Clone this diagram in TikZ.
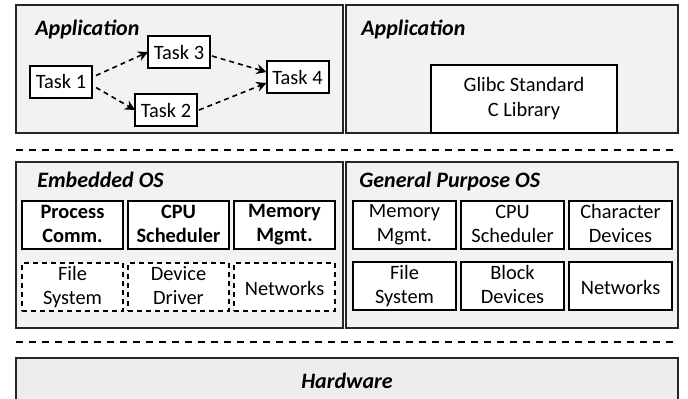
\documentclass[tikz,border=0pt]{standalone}
\usepackage{fontspec}
\setmainfont{Carlito}
\usepackage{tikz}
\usetikzlibrary{positioning,arrows.meta}
\definecolor{panelgray}{HTML}{F2F2F2}
\definecolor{hwgray}{HTML}{EDEDED}
\newcommand\boxstrut{\rule[-1.6pt]{0pt}{12pt}}

\begin{document}
\begin{tikzpicture}[x=0.5pt, y=-0.5pt, node distance=2.5pt,
  font=\fontsize{10.2}{12}\selectfont,
  panel/.style={draw=black!85, line width=1pt, fill=panelgray, inner sep=0pt, outer sep=0pt, anchor=north west},
  taskbox/.style={draw, line width=1pt, fill=white, minimum width=31pt, minimum height=16pt, inner sep=1pt, outer sep=0pt},
  osbox/.style={draw, line width=1pt, fill=white, align=center, minimum height=24pt, inner sep=0pt, outer sep=0pt,
    execute at begin node=\boxstrut, execute at end node=\boxstrut},
  optbox/.style={osbox, dash pattern=on 2.5pt off 2pt},
  paneltitle/.style={font=\fontsize{11}{13}\selectfont\bfseries\itshape, anchor=base west, inner sep=0pt},
  flow/.style={line width=0.8pt, dash pattern=on 2.5pt off 2pt, -{Stealth[length=5pt,width=5pt]}},
  layerline/.style={line width=1pt, dash pattern=on 3.5pt off 3pt}
]
\useasboundingbox (0,0) rectangle (688,398);

% Application panels (top row)
\node[panel, minimum width=163.5pt, minimum height=64pt] (appleft) at (16,5) {};
\node[panel, minimum width=166pt, minimum height=64pt] (appright) at (346,5) {};
\node[paneltitle] at (35,35) {Application};
\node[paneltitle] at (361,35) {Application};

% Tasks and their dependencies
\node[taskbox] (task1) at (61,81.5) {Task 1};
\node[taskbox] (task3) at (179,52) {Task 3};
\node[taskbox] (task2) at (166,110) {Task 2};
\node[taskbox] (task4) at (297.5,77) {Task 4};
\draw[flow] ([xshift=2pt,yshift=3pt]task1.east) -- (task3.west);
\draw[flow] ([xshift=2pt,yshift=-3pt]task1.east) -- (task2.west);
\draw[flow] ([xshift=1pt,yshift=-2pt]task3.east) -- ([yshift=2.5pt]task4.west);
\draw[flow] ([xshift=1pt]task2.east) -- ([yshift=-3pt]task4.west);

% Glibc
\node[draw, line width=1pt, fill=white, align=center, minimum width=93pt, minimum height=34pt,
  outer sep=0pt, anchor=north west, font=\fontsize{10.2}{12.5}\selectfont] (glibc) at (431,65) {Glibc Standard\\C Library};

% Layer separator
\draw[layerline] (16,150) -- (678,150);

% OS panels (middle row)
\node[panel, minimum width=163.5pt, minimum height=83pt] (eos) at (16,162) {};
\node[panel, minimum width=166pt, minimum height=83pt] (gpos) at (346,162) {};
\node[paneltitle] at (37,187) {Embedded OS};
\node[paneltitle] at (359,187) {General Purpose OS};

% Embedded OS, required parts (left, bold)
\node[osbox, minimum width=50.5pt, anchor=north west, font=\fontsize{10.2}{12}\selectfont\bfseries] (pc) at (22,201) {Process\\Comm.};
\node[osbox, minimum width=50.5pt, right=of pc, font=\fontsize{10.2}{12}\selectfont\bfseries] (cpuemb) {CPU\\Scheduler};
\node[osbox, minimum width=50.5pt, right=of cpuemb, font=\fontsize{10.2}{12}\selectfont\bfseries] (memembd) {Memory\\Mgmt.};

% Embedded OS, optional parts (dashed)
\node[optbox, minimum width=50.5pt, below=7pt of pc] (fsemb) {File\\System};
\node[optbox, minimum width=50.5pt, right=of fsemb] (drvemb) {Device\\Driver};
\node[optbox, minimum width=50.5pt, right=of drvemb] (netemb) {Networks};

% General purpose OS parts
\node[osbox, minimum width=51.5pt, anchor=north west] (memgp) at (353,201) {Memory\\Mgmt.};
\node[osbox, minimum width=51.5pt, right=of memgp] (cpugp) {CPU\\Scheduler};
\node[osbox, minimum width=51.5pt, right=of cpugp] (chargp) {Character\\Devices};
\node[osbox, minimum width=51.5pt, below=6.5pt of memgp] (fsgp) {File\\System};
\node[osbox, minimum width=51.5pt, right=of fsgp] (blockgp) {Block\\Devices};
\node[osbox, minimum width=51.5pt, right=of blockgp] (netgp) {Networks};

% Layer separator
\draw[layerline] (16,342) -- (678,342);

% Hardware
\node[panel, fill=hwgray, minimum width=331pt, minimum height=23pt] (hw) at (16,358) {};
\node[font=\fontsize{11}{13}\selectfont\bfseries\itshape] at (hw.center) {Hardware};

\end{tikzpicture}
\end{document}
